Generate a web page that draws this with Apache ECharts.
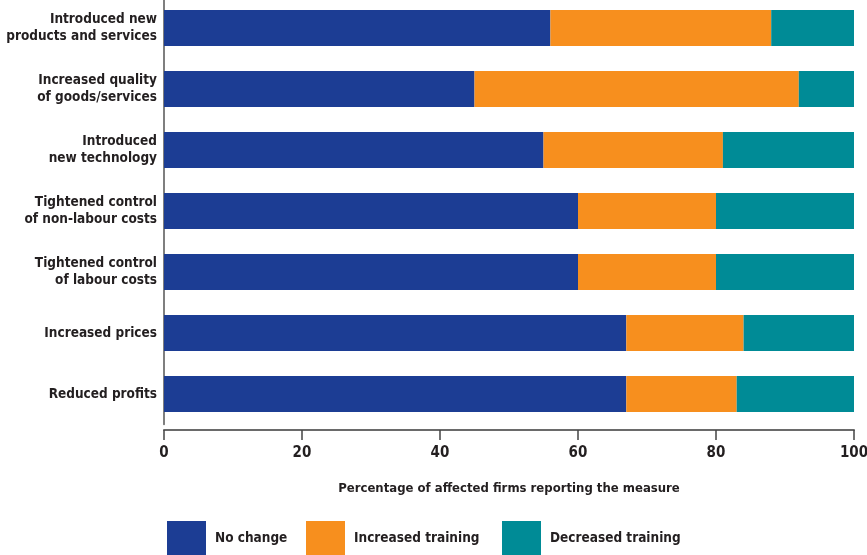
<!DOCTYPE html>
<html>
<head>
<meta charset="utf-8">
<script src="https://cdn.jsdelivr.net/npm/echarts@6/dist/echarts.min.js"></script>
<style>
html,body{margin:0;padding:0;background:#fff;}
#chart{width:867px;height:555px;}
</style>
</head>
<body>
<div id="chart"></div>
<script>
var categories = [
  "Introduced new\nproducts and services",
  "Increased quality\nof goods/services",
  "Introduced\nnew technology",
  "Tightened control\nof non-labour costs",
  "Tightened control\nof labour costs",
  "Increased prices",
  "Reduced profits"
];
var noChange = [56, 45, 55, 60, 60, 67, 67];
var increasedTraining = [32, 47, 26, 20, 20, 17, 16];
var decreasedTraining = [12, 8, 19, 20, 20, 16, 17];
var seriesNames = ["No change", "Increased training", "Decreased training"];
var xTicks = [0, 20, 40, 60, 80, 100];

var FONT = '"Liberation Sans Narrow", "DejaVu Sans Condensed", "Arial Narrow", sans-serif';
var TXT = '#231f20';
var colors = ['#1c3d94', '#f78f1e', '#008b96'];

var chart = echarts.init(document.getElementById('chart'));

function legendAt(name, left) {
  return {
    data: [name],
    left: left,
    top: 521,
    padding: 0,
    itemWidth: 39,
    itemHeight: 34,
    icon: 'rect',
    selectedMode: false,
    textStyle: {fontFamily: FONT, fontWeight: 'bold', fontSize: 13.5, color: TXT, padding: [5, 0, 0, 4]}
  };
}

var option = {
  animation: false,
  backgroundColor: '#fff',
  color: colors,
  grid: {left: 164, right: 13, top: -2.5, bottom: 130.5, containLabel: false, outerBoundsMode: 'none'},
  legend: [
    legendAt(seriesNames[0], 167),
    legendAt(seriesNames[1], 306),
    legendAt(seriesNames[2], 502)
  ],
  xAxis: {
    type: 'value',
    min: xTicks[0],
    max: xTicks[xTicks.length - 1],
    interval: xTicks[1] - xTicks[0],
    offset: 5.5,
    name: 'Percentage of affected firms reporting the measure',
    nameLocation: 'middle',
    nameGap: 52,
    nameTextStyle: {fontFamily: FONT, fontWeight: 'bold', fontSize: 13, color: TXT},
    axisLine: {show: true, lineStyle: {color: '#6a6a6a', width: 2}},
    axisTick: {show: true, length: 10, lineStyle: {color: '#444', width: 1.5}},
    axisLabel: {fontFamily: FONT, fontWeight: 'bold', fontSize: 15, color: TXT, margin: 16},
    splitLine: {show: false}
  },
  yAxis: {
    type: 'category',
    data: categories,
    inverse: true,
    axisLine: {show: true, lineStyle: {color: '#555', width: 1.5}},
    axisTick: {show: false},
    axisLabel: {fontFamily: FONT, fontWeight: 'bold', fontSize: 13.5, lineHeight: 17, color: TXT, margin: 7, align: 'right', padding: [3, 0, 0, 0]}
  },
  series: [
    {name: seriesNames[0], type: 'bar', stack: 'total', barWidth: 36, data: noChange},
    {name: seriesNames[1], type: 'bar', stack: 'total', barWidth: 36, data: increasedTraining},
    {name: seriesNames[2], type: 'bar', stack: 'total', barWidth: 36, data: decreasedTraining}
  ]
};
chart.setOption(option);
</script>
</body>
</html>
